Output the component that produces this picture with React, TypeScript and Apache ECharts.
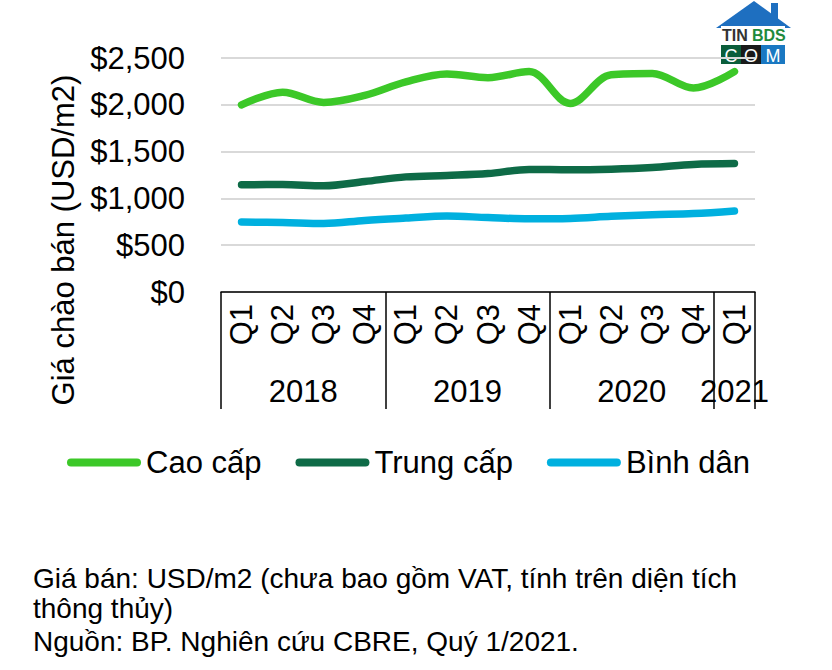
import React, { useEffect, useRef } from "react";
import * as echarts from "echarts";

const quarters = ["Q1", "Q2", "Q3", "Q4", "Q1", "Q2", "Q3", "Q4", "Q1", "Q2", "Q3", "Q4", "Q1"];
const years = ["2018", "2019", "2020", "2021"];
const yearCenters = [1.5, 5.5, 9.5, 12];
const seriesNames = ["Cao cấp", "Trung cấp", "Bình dân"];
const caoCap = [2000, 2135, 2025, 2100, 2245, 2330, 2290, 2355, 2015, 2320, 2335, 2180, 2355];
const trungCap = [1145, 1148, 1135, 1180, 1230, 1245, 1265, 1310, 1305, 1312, 1330, 1362, 1372];
const binhDan = [748, 742, 732, 765, 790, 812, 795, 782, 786, 808, 825, 838, 866];
const colors = ["#3CC828", "#0E6B47", "#00B0DF"];
const yMax = 2500;
const yStep = 500;
const yTitle = "Giá chào bán (USD/m2)";
const notes = [
  "Giá bán: USD/m2 (chưa bao gồm VAT, tính trên diện tích",
  "thông thủy)",
  "Nguồn: BP. Nghiên cứu CBRE, Quý 1/2021.",
];

const FONT = "'Liberation Sans', Arial, sans-serif";

export default function App() {
  const ref = useRef<HTMLDivElement>(null);
  useEffect(() => {
    if (!ref.current) return;
    const chart = echarts.init(ref.current, undefined, { renderer: "svg" });
    const values = [caoCap, trungCap, binhDan];
    const option: any = {
      animation: false,
      backgroundColor: "#ffffff",
      textStyle: { fontFamily: FONT },
      grid: { left: 221, right: 77, top: 58, bottom: 378, containLabel: false },
      legend: {
        left: 67,
        top: 447,
        padding: 0,
        itemWidth: 74,
        itemHeight: 8,
        itemGap: 34,
        icon: "path://M4,0 L70,0 A4,4 0 0 1 70,8 L4,8 A4,4 0 0 1 4,0 Z",
        textStyle: { fontSize: 31, color: "#000", fontFamily: FONT, lineHeight: 31 },
        data: seriesNames,
      },
      xAxis: [
        {
          type: "category",
          data: quarters,
          boundaryGap: true,
          position: "bottom",
          axisLine: { show: true, lineStyle: { color: "#000", width: 1.5 } },
          axisTick: {
            show: true,
            interval: (i: number) => i % 4 === 0,
            length: 117,
            lineStyle: { color: "#000", width: 1.5 },
          },
          axisLabel: {
            interval: 0,
            rotate: 90,
            fontSize: 31,
            color: "#000",
            fontFamily: FONT,
            margin: 12,
          },
          splitLine: { show: false },
        },
        {
          type: "value",
          position: "bottom",
          min: -0.5,
          max: 12.5,
          interval: 0.5,
          axisLine: { show: false },
          axisTick: { show: false },
          splitLine: { show: false },
          axisLabel: {
            margin: 84,
            fontSize: 31,
            color: "#000",
            fontFamily: FONT,
            showMinLabel: true,
            showMaxLabel: true,
            formatter: (v: number) => {
              const i = yearCenters.findIndex((c) => Math.abs(c - v) < 1e-6);
              return i >= 0 ? years[i] : "";
            },
          },
        },
      ],
      yAxis: {
        type: "value",
        min: 0,
        max: yMax,
        interval: yStep,
        axisLine: { show: false },
        axisTick: { show: false },
        splitLine: { show: true, lineStyle: { color: "#D9D9D9", width: 2 } },
        axisLabel: {
          fontSize: 31,
          color: "#000",
          fontFamily: FONT,
          margin: 36,
          formatter: (v: number) => "$" + v.toLocaleString("en-US"),
        },
      },
      series: seriesNames.map((name, k) => ({
        name,
        type: "line",
        xAxisIndex: 0,
        data: values[k],
        smooth: 0.35,
        symbol: "none",
        color: colors[k],
        lineStyle: { width: 7.5, color: colors[k], cap: "round", join: "round" },
        z: 3 + (2 - k),
      })),
      graphic: [
        {
          type: "text",
          x: 63,
          y: 240,
          rotation: Math.PI / 2,
          style: {
            text: yTitle,
            fontSize: 31,
            fontFamily: FONT,
            fill: "#000",
            align: "center",
            verticalAlign: "middle",
          },
        },
        ...notes.map((t, i) => ({
          type: "text",
          left: 33,
          top: [564, 594, 627][i],
          style: { text: t, fontSize: 28, fontFamily: FONT, fill: "#000" },
        })),
        {
          type: "group",
          z: 100,
          children: [
            { type: "polygon", shape: { points: [[716, 28], [754, 1], [791, 28]] }, style: { fill: "#1E6FC0" } },
            { type: "rect", shape: { x: 771, y: 3, width: 7, height: 16 }, style: { fill: "#1E6FC0" } },
            { type: "rect", shape: { x: 721, y: 26, width: 64, height: 19 }, style: { fill: "#ffffff" } },
            { type: "text", x: 722, y: 35.5, style: { text: "TIN", fontSize: 16, lineHeight: 16, fontWeight: "bold", fontFamily: FONT, fill: "#333333", verticalAlign: "middle" } },
            { type: "text", x: 752, y: 35.5, style: { text: "BDS", fontSize: 16, lineHeight: 16, fontWeight: "bold", fontFamily: FONT, fill: "#1F8A3C", verticalAlign: "middle" } },
            { type: "rect", shape: { x: 721, y: 45, width: 20, height: 19 }, style: { fill: "#0B5E3B" } },
            { type: "rect", shape: { x: 741, y: 45, width: 20, height: 19 }, style: { fill: "#1A1A1A" } },
            { type: "rect", shape: { x: 761, y: 45, width: 24, height: 19 }, style: { fill: "#1A78C2" } },
            { type: "text", x: 731, y: 55.5, style: { text: "C", fontSize: 18, lineHeight: 18, fontFamily: FONT, fill: "#ffffff", align: "center", verticalAlign: "middle" } },
            { type: "text", x: 751, y: 55.5, style: { text: "O", fontSize: 18, lineHeight: 18, fontFamily: FONT, fill: "#ffffff", align: "center", verticalAlign: "middle" } },
            { type: "text", x: 773, y: 55.5, style: { text: "M", fontSize: 18, lineHeight: 18, fontFamily: FONT, fill: "#ffffff", align: "center", verticalAlign: "middle" } },
          ],
        },
      ],
    };
    chart.setOption(option);
    return () => chart.dispose();
  }, []);
  return (
    <div
      ref={ref}
      style={{ position: "fixed", left: 0, top: 0, width: 832, height: 670, background: "#fff" }}
    />
  );
}
